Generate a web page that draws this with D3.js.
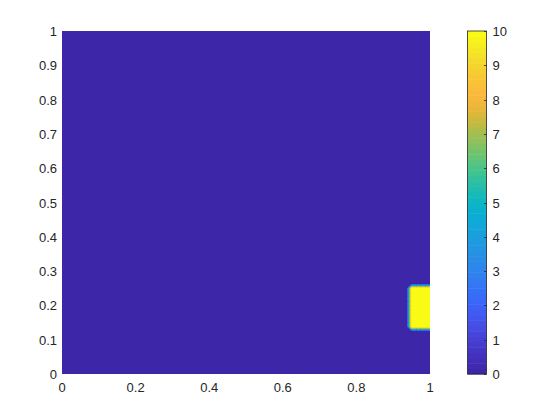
<!DOCTYPE html>
<html>
<head>
<meta charset="utf-8">
<script src="https://cdn.jsdelivr.net/npm/d3@7"></script>
<style>
  body { margin: 0; background: #fff; }
  svg text { font-family: "Liberation Sans", Arial, Helvetica, sans-serif; font-size: 13px; fill: #262626; }
</style>
</head>
<body>
<svg id="chart" width="560" height="420"></svg>
<script>
// grid of the field (nodes per side) and the hot block inside it
const gridSize = 81;
const baseValue = 0;
const blockValue = 10;
const blockX = [0.95, 1.0];
const blockY = [0.1375, 0.25];

const xTicks = [0, 0.2, 0.4, 0.6, 0.8, 1];
const yTicks = [0, 0.1, 0.2, 0.3, 0.4, 0.5, 0.6, 0.7, 0.8, 0.9, 1];
const cbTicks = [0, 1, 2, 3, 4, 5, 6, 7, 8, 9, 10];
const colorDomain = [0, 10];

// parula-like colormap anchors
const parulaStops = [
  '#3e26a8', '#4331bf', '#4741d6', '#4553eb', '#3a65fb', '#3474f6',
  '#2e86eb', '#2791e3', '#1a9fde', '#0dabd8', '#06b7c8', '#26bda8',
  '#45c68d', '#74c46a', '#9cbf55', '#d3b935', '#fbb43c', '#fac03a',
  '#f5d22e', '#f5e627', '#f9fb15'
];
const nColors = 64;
const parulaInterp = d3.interpolateRgbBasis(parulaStops);
const parula = d3.range(nColors).map(k => parulaInterp(k / (nColors - 1)));

const svg = d3.select('#chart');
const plot = { left: 62, right: 430, top: 31, bottom: 374 };

const x = d3.scaleLinear().domain([0, 1]).range([plot.left, plot.right]);
const y = d3.scaleLinear().domain([0, 1]).range([plot.bottom, plot.top]);

// build field values
const step = 1 / (gridSize - 1);
const values = new Array(gridSize * gridSize);
for (let j = 0; j < gridSize; j++) {
  for (let i = 0; i < gridSize; i++) {
    const xv = i * step, yv = j * step;
    const inside = xv >= blockX[0] - 1e-9 && xv <= blockX[1] + 1e-9 &&
                   yv >= blockY[0] - 1e-9 && yv <= blockY[1] + 1e-9;
    values[j * gridSize + i] = inside ? blockValue : baseValue;
  }
}

const levelStep = (colorDomain[1] - colorDomain[0]) / nColors;
const thresholds = d3.range(nColors).map(k => colorDomain[0] + k * levelStep);
const contours = d3.contours().size([gridSize, gridSize]).thresholds(thresholds)(values);

const proj = d3.geoTransform({
  point: function(px, py) {
    this.stream.point(x((px - 0.5) * step), y((py - 0.5) * step));
  }
});
const path = d3.geoPath(proj);

svg.append('clipPath').attr('id', 'plot-clip')
  .append('rect')
  .attr('x', plot.left).attr('y', plot.top)
  .attr('width', plot.right - plot.left).attr('height', plot.bottom - plot.top);

const colorIndex = v => Math.max(0, Math.min(nColors - 1, Math.floor((v - colorDomain[0]) / levelStep + 1e-6)));

svg.append('g').attr('clip-path', 'url(#plot-clip)')
  .selectAll('path')
  .data(contours)
  .enter().append('path')
  .attr('d', path)
  .attr('fill', d => parula[colorIndex(d.value)])
  .attr('stroke', d => parula[colorIndex(d.value)])
  .attr('stroke-width', 0.3);

// tick labels (axis lines sit under the image)
svg.append('g').selectAll('text')
  .data(xTicks)
  .enter().append('text')
  .attr('x', d => x(d))
  .attr('y', plot.bottom + 18)
  .attr('text-anchor', 'middle')
  .text(d => d3.format('~g')(d));

svg.append('g').selectAll('text')
  .data(yTicks)
  .enter().append('text')
  .attr('x', plot.left - 5)
  .attr('y', d => y(d) + 5)
  .attr('text-anchor', 'end')
  .text(d => d3.format('~g')(d));

// colorbar
const cb = { left: 467.5, right: 486.5 };
const cbY = d3.scaleLinear().domain(colorDomain).range([plot.bottom, plot.top]);

svg.append('g').selectAll('rect')
  .data(parula)
  .enter().append('rect')
  .attr('x', cb.left)
  .attr('width', cb.right - cb.left)
  .attr('y', (c, k) => cbY(colorDomain[0] + (k + 1) * levelStep))
  .attr('height', (c, k) => cbY(colorDomain[0] + k * levelStep) - cbY(colorDomain[0] + (k + 1) * levelStep) + 0.5)
  .attr('fill', c => c);

svg.append('rect')
  .attr('x', cb.left).attr('y', plot.top)
  .attr('width', cb.right - cb.left).attr('height', plot.bottom - plot.top)
  .attr('fill', 'none').attr('stroke', '#262626').attr('stroke-width', 0.8);

svg.append('g').selectAll('line')
  .data(cbTicks)
  .enter().append('line')
  .attr('x1', cb.right - 2.5).attr('x2', cb.right)
  .attr('y1', d => Math.round(cbY(d)) + 0.5).attr('y2', d => Math.round(cbY(d)) + 0.5)
  .attr('stroke', '#262626').attr('stroke-width', 0.8);

svg.append('g').selectAll('text')
  .data(cbTicks)
  .enter().append('text')
  .attr('x', cb.right + 6)
  .attr('y', d => cbY(d) + 5)
  .text(d => d);
</script>
</body>
</html>
